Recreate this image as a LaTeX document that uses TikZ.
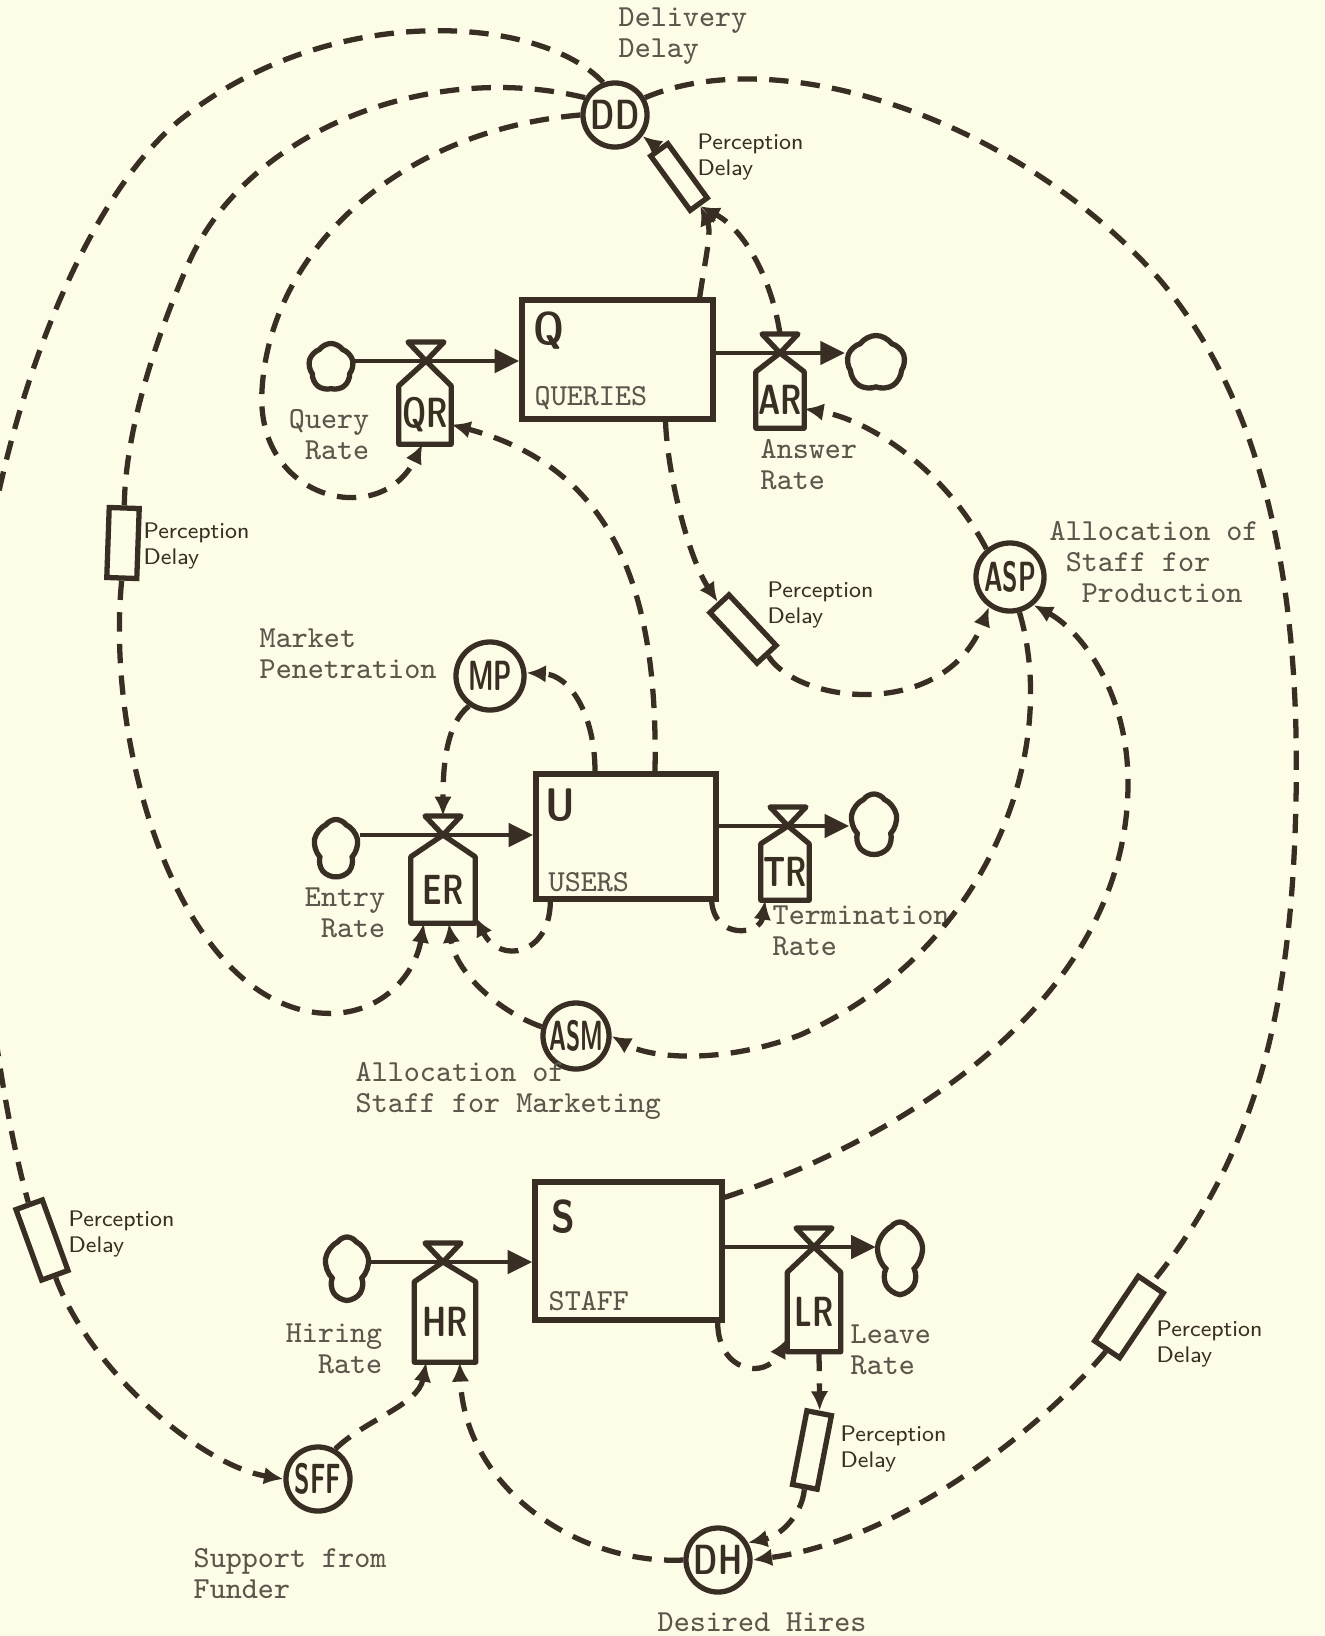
\documentclass[tikz,border=0pt]{standalone}
\usepackage{graphicx}
\usetikzlibrary{arrows.meta,calc,shapes.symbols}
\definecolor{paperCream}{RGB}{253,253,231}
\definecolor{inkBrown}{RGB}{56,46,36}
\definecolor{typeGrey}{RGB}{92,86,76}

\newcommand\scrib[2][0.72]{\scalebox{#1}[1]{\sffamily\bfseries #2}}
\newcommand\valve[2]{%
  \draw[ink, fill=paperCream, line join=round] (#1) -- ++(-18,-19) -- ++(36,0) -- cycle;
  \draw[ink, line join=round] (#1) -- (#2.north west) -- (#2.south west) -- (#2.south east) -- (#2.north east) -- cycle;
}

\tikzset{
  ink/.style={draw=inkBrown, line width=1.5pt},
  stockbox/.style={ink, fill=paperCream, rectangle, inner sep=0pt},
  auxcircle/.style={ink, fill=paperCream, circle, inner sep=0pt, text=inkBrown, font=\fontsize{12}{12}\selectfont},
  valvebody/.style={rectangle, inner sep=0pt, text=inkBrown, font=\fontsize{12}{12}\selectfont},
  delaybox/.style={ink, fill=paperCream, rectangle, inner sep=0pt},
  srccloud/.style={ink, fill=paperCream, cloud, cloud puffs=5, cloud puff arc=110, cloud ignores aspect, inner sep=0pt},
  link/.style={draw=inkBrown, line width=1.5pt, dash pattern=on 5.5pt off 3.5pt},
  linkarrow/.style={link, -{Latex[length=5.5pt,width=5pt]}},
  flowline/.style={draw=inkBrown, line width=1.4pt, -{Triangle[length=7pt,width=6.5pt]}},
  boxletter/.style={inner sep=0pt, text=inkBrown, font=\fontsize{13}{13}\selectfont},
  typed/.style={inner sep=0pt, text=typeGrey, font=\fontsize{8.7}{8.8}\selectfont\ttfamily},
  scrawl/.style={inner sep=0pt, text=inkBrown, align=left, anchor=west, font=\fontsize{6.4}{7.4}\selectfont\sffamily}
}

\begin{document}
\begin{tikzpicture}[x=0.01cm,y=-0.01cm]
  \fill[paperCream] (0,0) rectangle (1325,1636);
  \useasboundingbox (0,0) rectangle (1325,1636);
  \clip (0,0) rectangle (1325,1636);

  \node[stockbox, minimum width=1.91cm, minimum height=1.19cm] (Q) at (617.5,359.5) {};
  \node[boxletter] (Qlet) at (549,331) {\scrib[0.85]{Q}};
  \node[typed, anchor=west] (Qname) at (534,398) {QUERIES};
  \node[stockbox, minimum width=1.80cm, minimum height=1.25cm] (U) at (626,836.5) {};
  \node[boxletter] (Ulet) at (560,805) {\scrib[0.85]{U}};
  \node[typed, anchor=west] (Uname) at (548,882) {USERS};
  \node[stockbox, minimum width=1.87cm, minimum height=1.38cm] (S) at (628.5,1251) {};
  \node[boxletter] (Slet) at (563,1217) {\scrib[0.85]{S}};
  \node[typed, anchor=west] (Sname) at (548,1301) {STAFF};

  \coordinate (QRv) at (426,361);
  \coordinate (QRtop) at (426,342);
  \coordinate (ARv) at (780,353);
  \coordinate (ARtop) at (780,334);
  \coordinate (ERv) at (443,835);
  \coordinate (ERtop) at (443,816);
  \coordinate (TRv) at (788,826);
  \coordinate (HRv) at (443,1262);
  \coordinate (LRv) at (814,1247);

  \node[srccloud, minimum width=0.45cm, minimum height=0.47cm] (cQi) at (331,367) {};
  \node[srccloud, minimum width=0.58cm, minimum height=0.55cm] (cQo) at (876,363) {};
  \node[srccloud, minimum width=0.45cm, minimum height=0.57cm] (cUi) at (336,848) {};
  \node[srccloud, minimum width=0.47cm, minimum height=0.60cm] (cUo) at (874,824) {};
  \node[srccloud, minimum width=0.45cm, minimum height=0.62cm] (cSi) at (347,1268) {};
  \node[srccloud, minimum width=0.47cm, minimum height=0.70cm] (cSo) at (900,1257) {};

  \draw[flowline] (cQi.east |- QRv) -- (Q.west |- QRv);
  \draw[flowline] (Q.east |- ARv) -- (cQo.west |- ARv);
  \draw[flowline] (cUi.east |- ERv) -- (U.west |- ERv);
  \draw[flowline] (U.east |- TRv) -- (cUo.west |- TRv);
  \draw[flowline] (cSi.east |- HRv) -- (S.west |- HRv);
  \draw[flowline] (S.east |- LRv) -- (cSo.west |- LRv);

  \node[valvebody, minimum width=0.51cm, minimum height=0.57cm] (QRb) at (425,415) {\scrib{QR}};
  \node[valvebody, minimum width=0.47cm, minimum height=0.55cm] (ARb) at (780,400) {\scrib{AR}};
  \node[valvebody, minimum width=0.63cm, minimum height=0.65cm] (ERb) at (443,890) {\scrib{ER}};
  \node[valvebody, minimum width=0.47cm, minimum height=0.55cm] (TRb) at (785,872) {\scrib{TR}};
  \node[valvebody, minimum width=0.60cm, minimum height=0.79cm] (HRb) at (445,1322) {\scrib{HR}};
  \node[valvebody, minimum width=0.52cm, minimum height=0.78cm] (LRb) at (814,1312) {\scrib{LR}};
  \valve{QRv}{QRb}
  \valve{ARv}{ARb}
  \valve{ERv}{ERb}
  \valve{TRv}{TRb}
  \valve{HRv}{HRb}
  \valve{LRv}{LRb}

  \node[auxcircle, minimum size=0.64cm] (DD) at (615,115) {\scrib{DD}};
  \node[auxcircle, minimum size=0.68cm] (MP) at (490,676) {\scrib[0.62]{MP}};
  \node[auxcircle, minimum size=0.66cm] (ASM) at (576,1036) {\scrib[0.55]{ASM}};
  \node[auxcircle, minimum size=0.68cm] (ASP) at (1010,577) {\scrib[0.6]{ASP}};
  \node[auxcircle, minimum size=0.64cm] (SFF) at (318,1479) {\scrib[0.6]{SFF}};
  \node[auxcircle, minimum size=0.64cm] (DH) at (718,1560) {\scrib{DH}};

  \node[delaybox, minimum width=0.21cm, minimum height=0.67cm, rotate=36] (pdDD) at (679,177) {};
  \node[delaybox, minimum width=0.30cm, minimum height=0.70cm, rotate=-2] (pdUL) at (123,543) {};
  \node[delaybox, minimum width=0.26cm, minimum height=0.69cm, rotate=43] (pdMid) at (743,629) {};
  \node[delaybox, minimum width=0.28cm, minimum height=0.75cm, rotate=20] (pdLL) at (42,1240) {};
  \node[delaybox, minimum width=0.25cm, minimum height=0.75cm, rotate=-11] (pdLR) at (812,1450) {};
  \node[delaybox, minimum width=0.30cm, minimum height=0.78cm, rotate=-34] (pdR) at (1129,1317) {};

  \node[scrawl] (lpDD) at (697,157) {Perception\\Delay};
  \node[scrawl] (lpUL) at (143,546) {Perception\\Delay};
  \node[scrawl] (lpMid) at (767,605) {Perception\\Delay};
  \node[scrawl] (lpLL) at (68,1234) {Perception\\Delay};
  \node[scrawl] (lpLR) at (840,1449) {Perception\\Delay};
  \node[scrawl] (lpR) at (1156,1344) {Perception\\Delay};

  \node[typed, align=left, anchor=west] (lDD) at (618,36) {Delivery\\Delay};
  \node[typed, align=right, anchor=east] (lQR) at (370,435) {Query\\Rate};
  \node[typed, align=left, anchor=west] (lAR) at (760,464.5) {Answer\\Rate};
  \node[typed, align=left, anchor=west] (lMP) at (259,654) {Market\\Penetration};
  \node[typed, align=right, anchor=east] (lER) at (386,913) {Entry\\Rate};
  \node[typed, align=left, anchor=west] (lTR) at (772,930.5) {Termination\\Rate};
  \node[typed, align=left, anchor=west] (lASM) at (355,1091) {Allocation of\\Staff for Marketing};
  \node[typed, align=left, anchor=west] (lASP) at (1049,562) {Allocation of\\\phantom{A}Staff for\\\phantom{AA}Production};
  \node[typed, align=right, anchor=east] (lHR) at (383,1348.5) {Hiring\\Rate};
  \node[typed, align=left, anchor=west] (lLR) at (850,1349.5) {Leave\\Rate};
  \node[typed, align=left, anchor=west] (lSFF) at (193,1573.5) {Support from\\Funder};
  \node[typed, anchor=west] (lDH) at (657,1622) {Desired Hires};

  \draw[link] (DD.110) .. controls (540,15) and (330,0) .. (180,120) .. controls (70,210) and (-30,480) .. (-30,750) .. controls (-20,950) and (0,1100) .. (pdLL.north);
  \draw[linkarrow] (pdLL.south) .. controls (90,1370) and (200,1465) .. (SFF.west);
  \draw[link] (DD.150) .. controls (430,60) and (250,130) .. (190,260) .. controls (150,350) and (125,440) .. (pdUL.north);
  \draw[linkarrow] (pdUL.south) .. controls (105,750) and (180,1000) .. (320,1013) .. controls (380,1018) and (415,975) .. (ERb.-120);
  \draw[linkarrow] (DD.180) .. controls (400,130) and (270,250) .. (262,390) .. controls (255,500) and (380,530) .. (QRb.-95);
  \draw[link] (DD.30) .. controls (780,40) and (1020,120) .. (1160,280) .. controls (1270,410) and (1300,600) .. (1296,800) .. controls (1292,1000) and (1260,1150) .. (pdR.north);
  \draw[linkarrow] (pdR.south) .. controls (1040,1430) and (900,1540) .. (DH.east);
  \draw[linkarrow] ($(Q.north east)+(-16,0)$) .. controls (705,260) and (712,232) .. (pdDD.south);
  \draw[linkarrow] (ARtop) .. controls (772,280) and (745,230) .. (pdDD.south);
  \draw[linkarrow] (pdDD.north) -- (DD);
  \draw[linkarrow] ($(Q.south)+(48,0)$) .. controls (668,480) and (690,560) .. (pdMid.north);
  \draw[linkarrow] (pdMid.south) .. controls (800,705) and (945,720) .. (ASP.-125);
  \draw[linkarrow] (ASP.130) .. controls (945,470) and (870,420) .. (ARb.-20);
  \draw[linkarrow] ($(U.north)+(29,0)$) .. controls (658,600) and (620,470) .. (QRb.-20);
  \draw[linkarrow] ($(U.north)+(-31,0)$) .. controls (595,715) and (570,675) .. (MP.5);
  \draw[linkarrow] (MP.235) .. controls (445,725) and (443,770) .. (ERtop);
  \draw[linkarrow] ($(U.south west)+(17,0)$) .. controls (550,955) and (500,965) .. (ERb.-40);
  \draw[linkarrow] ($(U.south east)+(-7,0)$) .. controls (715,940) and (760,935) .. (TRb.-125);
  \draw[linkarrow] (ASM.165) .. controls (495,1010) and (455,970) .. (ERb.-80);
  \draw[linkarrow] (ASP.-75) .. controls (1060,750) and (990,950) .. (800,1035) .. controls (720,1065) and (650,1058) .. (ASM.east);
  \draw[linkarrow] ($(S.north east)+(0,18)$) .. controls (900,1140) and (1130,1000) .. (1128,780) .. controls (1127,690) and (1080,630) .. (ASP.-50);
  \draw[linkarrow] ($(S.south east)+(-7,0)$) .. controls (718,1372) and (765,1380) .. (LRb.-135);
  \draw[linkarrow] ($(LRb.south)+(5,0)$) -- (pdLR.north);
  \draw[linkarrow] (pdLR.south) .. controls (802,1515) and (780,1536) .. (DH.30);
  \draw[linkarrow] (SFF.60) .. controls (365,1420) and (418,1405) .. (HRb.-115);
  \draw[linkarrow] (DH.west) .. controls (580,1565) and (465,1490) .. (HRb.-70);
\end{tikzpicture}
\end{document}
